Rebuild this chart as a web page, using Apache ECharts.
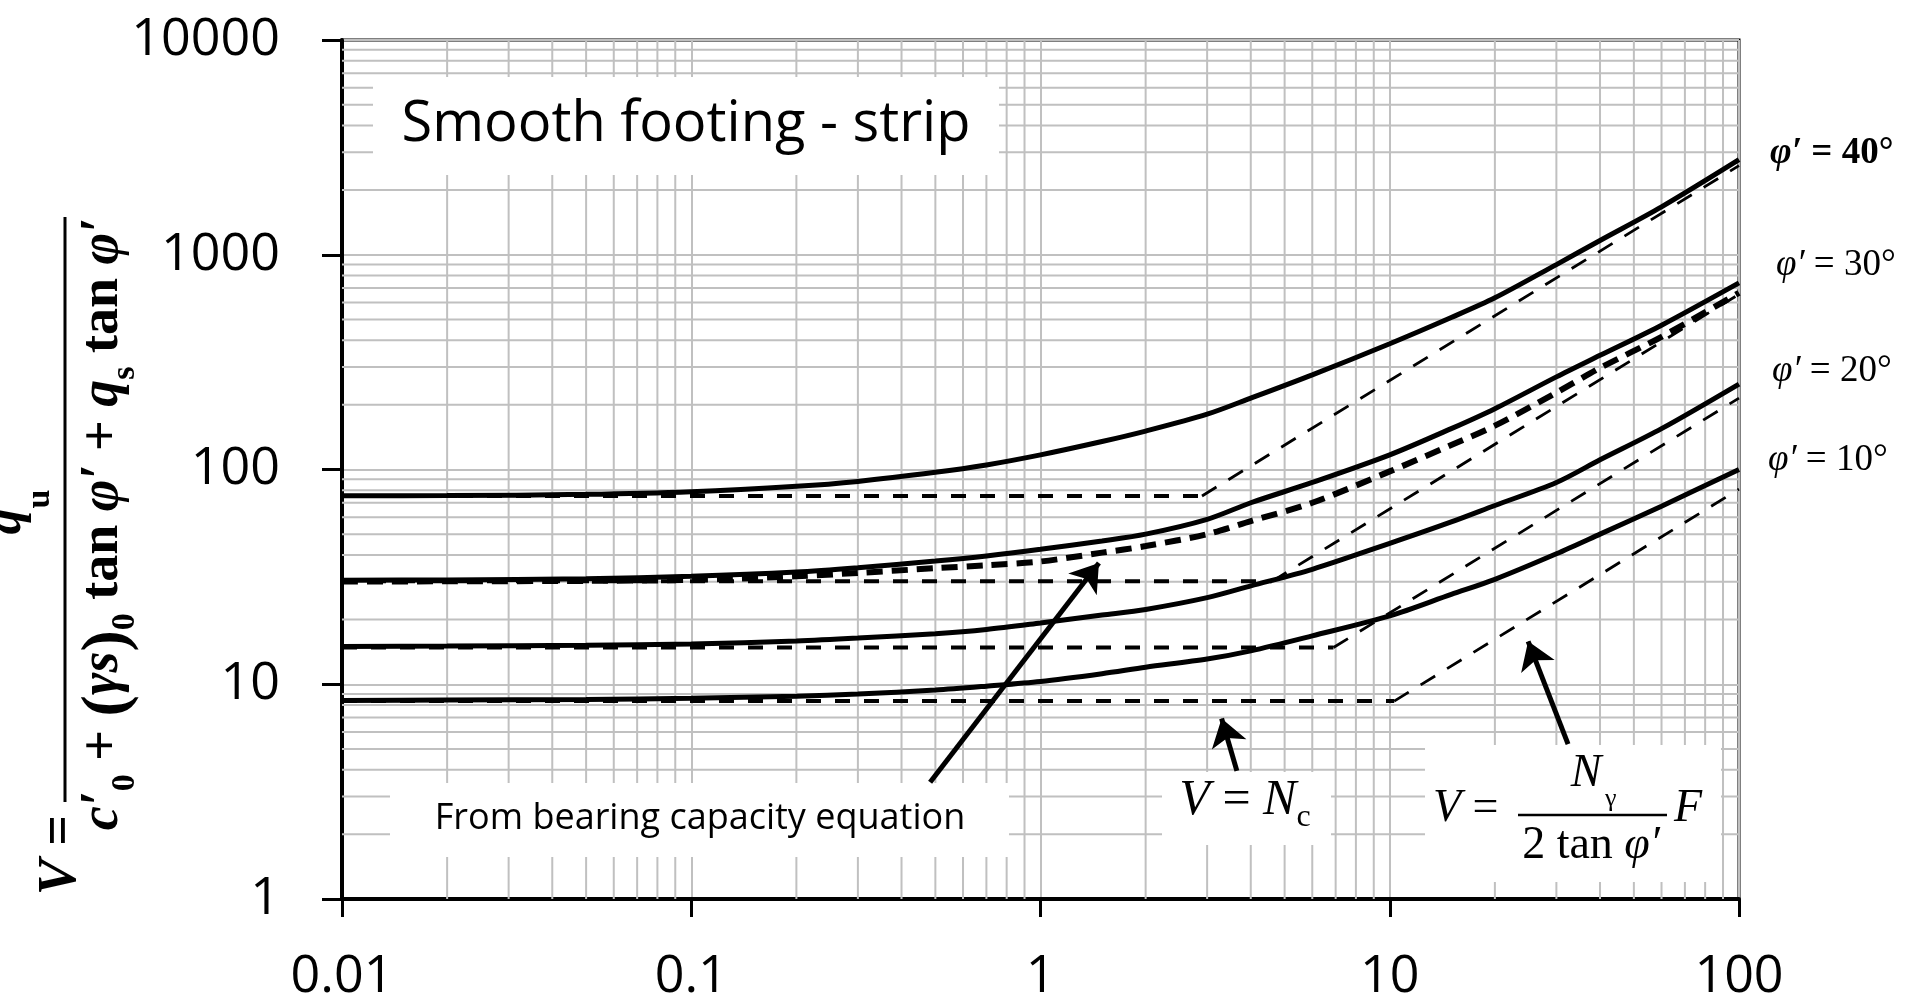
<!DOCTYPE html>
<html>
<head>
<meta charset="utf-8">
<title>Smooth footing - strip</title>
<script src="https://cdn.jsdelivr.net/npm/echarts@6/dist/echarts.min.js"></script>
<style>
  html, body { margin: 0; padding: 0; background: #fff; }
  #chart { width: 1915px; height: 1003px; }
</style>
</head>
<body>
<div id="chart"></div>
<script>
const xF = [0.01, 0.02, 0.05, 0.1, 0.2, 0.3, 0.5, 0.7, 1, 1.5, 2, 3, 4, 6, 10, 15, 20, 30, 40, 60, 100];

// V for each friction angle (solid lines)
const vPhi10 = [8.4, 8.45, 8.5, 8.6, 8.8, 9.0, 9.4, 9.8, 10.3, 11.2, 12.0, 13.1, 14.3, 16.8, 20.8, 26.2, 30.8, 40.5, 50, 67.5, 100];
const vPhi20 = [15.0, 15.05, 15.2, 15.4, 15.9, 16.4, 17.2, 18.0, 19.3, 21.0, 22.3, 25.3, 28.7, 34.3, 45.3, 57, 68, 87, 111, 155, 250];
const vPhi30 = [30.5, 30.6, 31.0, 31.8, 33.3, 34.9, 37.5, 39.6, 42.5, 46.5, 50, 58.6, 70, 87, 117, 155, 192, 270, 340, 470, 740];
const vPhi40 = [75.4, 75.6, 76.6, 78.8, 83.5, 88, 97, 105, 117, 135, 151, 181, 215, 276, 385, 510, 630, 900, 1165, 1670, 2770];

// phi' = 30 from bearing capacity equation (thick dashed)
const vPhi30Eq = [30.1, 30.15, 30.3, 30.6, 31.8, 33.0, 34.7, 35.8, 37.3, 41, 44, 50, 57.5, 70, 98, 130, 160, 228, 297, 415, 665];

// asymptotes: V = Nc (flat) then V = N_gamma F / (2 tan phi') (rising), thin dashed
const asym10 = [[0.01, 8.35], [10.3, 8.35], [100, 81]];
const asym20 = [[0.01, 14.83], [6.9, 14.83], [100, 215]];
const asym30 = [[0.01, 30.14], [4.6, 30.14], [100, 655]];
const asym40 = [[0.01, 75.31], [2.9, 75.31], [100, 2600]];

// annotation arrows, tail -> head (data coords)
const arrowFrom = [[0.483, 3.5], [3.65, 3.95], [32.4, 5.26]];
const arrowTo = [[1.47, 36.7], [3.30, 6.93], [24.9, 15.85]];

// tick labels and minor grid
const xTickLabels = ['0.01', '0.1', '1', '10', '100'];
const yTickLabels = ['1', '10', '100', '1000', '10000'];
const xDecades = [0.01, 0.1, 1, 10];
const yDecades = [1, 10, 100, 1000];
const minorSteps = [2, 3, 4, 5, 6, 7, 8, 9];

const SERIF = '"Liberation Serif", "Times New Roman", serif';
const SANS = '"Open Sans", sans-serif';

function pairs(xs, ys) {
    return xs.map((x, i) => [x, ys[i]]);
}

// minor grid lines as one broken line series
let minorGrid = [];
xDecades.forEach(d => minorSteps.forEach(k => {
    const v = +(d * k).toPrecision(3);
    minorGrid.push([v, 1], [v, 10000], ['-', '-']);
}));
yDecades.forEach(d => minorSteps.forEach(k => {
    const v = +(d * k).toPrecision(3);
    minorGrid.push([0.01, v], [100, v], ['-', '-']);
}));

const solid = { color: '#000', width: 5 };
const flatDash = { color: '#000', width: 4, type: [15, 14] };
const riseDash = { color: '#000', width: 2.8, type: [17, 14] };

function curve(data, lineStyle, smooth) {
    return {
        type: 'line', data: data, smooth: smooth, symbol: 'none', showSymbol: false,
        lineStyle: lineStyle, z: 4, silent: true
    };
}

// flat part and rising part of one asymptote
function asymptote(pts) {
    return [curve(pts.slice(0, 2), flatDash, false), curve(pts.slice(1), riseDash, false)];
}

// rich styles: main tokens sit at the top of a tall line, subscripts at its bottom
function mainTok(size, lh, italic, bold) {
    return { fontFamily: SERIF, fontSize: size, lineHeight: lh, verticalAlign: 'top',
        fontStyle: italic ? 'italic' : 'normal', fontWeight: bold ? 'bold' : 'normal' };
}
function subTok(size, lh, bold) {
    return { fontFamily: SERIF, fontSize: size, lineHeight: lh, verticalAlign: 'bottom',
        fontWeight: bold ? 'bold' : 'normal' };
}

const yLabel = {
    type: 'group', x: 65, y: 510, rotation: Math.PI / 2,
    children: [
        { type: 'line', shape: { x1: -292, y1: 0, x2: 293, y2: 0 }, style: { stroke: '#000', lineWidth: 3 } },
        {
            type: 'text', x: -2, y: -84,
            style: {
                text: '{q|q}{u|u}', align: 'center', verticalAlign: 'top',
                rich: { q: mainTok(52, 76, true, true), u: subTok(34, 32, true) }
            }
        },
        {
            type: 'text', x: -14, y: 11,
            style: {
                text: '{i|c′}{s|0}{r| + }{pa|(}{i|γs}{pa|)}{s|0}{r| tan}{i| φ′}{r| + }{i|q}{s|s}{r| tan}{i| φ′}',
                align: 'center', verticalAlign: 'top',
                rich: {
                    i: mainTok(54, 66, true, true),
                    r: mainTok(54, 66, false, true),
                    pa: mainTok(64, 66, false, true),
                    s: subTok(34, 30, true)
                }
            }
        },
        {
            type: 'text', x: -305, y: -4,
            style: {
                text: '{i|V}{r| =}', align: 'right', verticalAlign: 'middle',
                rich: {
                    i: { fontFamily: SERIF, fontSize: 54, fontWeight: 'bold', fontStyle: 'italic' },
                    r: { fontFamily: SERIF, fontSize: 54, fontWeight: 'bold' }
                }
            }
        }
    ]
};

function phiLabel(x, y, deg, bold) {
    const w = bold ? 'bold' : 'normal';
    return {
        type: 'text', x: x, y: y,
        style: {
            text: '{i|φ′}{r| = ' + deg + '°}', align: 'left', verticalAlign: 'middle',
            rich: {
                i: { fontFamily: SERIF, fontSize: 37, fontStyle: 'italic', fontWeight: w },
                r: { fontFamily: SERIF, fontSize: 37, fontWeight: w }
            }
        }
    };
}

const serifIt = (size) => ({ fontFamily: SERIF, fontSize: size, fontStyle: 'italic' });

const graphics = [
    yLabel,
    // title box
    { type: 'rect', z: 3, shape: { x: 373, y: 77, width: 626, height: 98 }, style: { fill: '#fff' } },
    { type: 'text', z: 3, x: 686, y: 125, style: { text: 'Smooth footing - strip', fontFamily: SANS, fontSize: 56, fill: '#000', align: 'center', verticalAlign: 'middle' } },
    // from bearing capacity box
    { type: 'rect', z: 3, shape: { x: 390, y: 783, width: 619, height: 74 }, style: { fill: '#fff' } },
    { type: 'text', z: 3, x: 700, y: 819, style: { text: 'From bearing capacity equation', fontFamily: SANS, fontSize: 36, fill: '#000', align: 'center', verticalAlign: 'middle' } },
    // V = Nc box
    { type: 'rect', z: 3, shape: { x: 1162, y: 772, width: 169, height: 73 }, style: { fill: '#fff' } },
    {
        type: 'text', z: 3, x: 1245, y: 776,
        style: {
            text: '{i|V}{r| = }{i|N}{s|c}', align: 'center', verticalAlign: 'top',
            rich: { i: mainTok(50, 58, true, false), r: mainTok(50, 58, false, false), s: subTok(32, 26, false) }
        }
    },
    // V = N_gamma / (2 tan phi') F box
    { type: 'rect', z: 3, shape: { x: 1425, y: 745, width: 296, height: 137 }, style: { fill: '#fff' } },
    {
        type: 'text', z: 3, x: 1433, y: 809,
        style: { text: '{i|V}{r| =}', align: 'left', verticalAlign: 'middle',
            rich: { i: serifIt(46), r: { fontFamily: SERIF, fontSize: 46 } } }
    },
    { type: 'line', z: 3, shape: { x1: 1518, y1: 815, x2: 1667, y2: 815 }, style: { stroke: '#000', lineWidth: 2.5 } },
    { type: 'text', z: 3, x: 1586, y: 774, style: Object.assign(serifIt(46), { text: 'N', fill: '#000', align: 'center', verticalAlign: 'middle' }) },
    { type: 'text', z: 3, x: 1605, y: 799, style: { text: 'γ', fontFamily: SERIF, fontSize: 26, fill: '#000', align: 'left', verticalAlign: 'middle' } },
    {
        type: 'text', z: 3, x: 1591, y: 846,
        style: { text: '{r|2 tan }{i|φ′}', align: 'center', verticalAlign: 'middle',
            rich: { i: serifIt(46), r: { fontFamily: SERIF, fontSize: 46 } } }
    },
    { type: 'text', z: 3, x: 1674, y: 809, style: Object.assign(serifIt(46), { text: 'F', fill: '#000', align: 'left', verticalAlign: 'middle' }) },
    // phi' labels on the right
    phiLabel(1770, 153, 40, true),
    phiLabel(1776, 265, 30, false),
    phiLabel(1772, 371, 20, false),
    phiLabel(1768, 460, 10, false)
];

const chart = echarts.init(document.getElementById('chart'));

const option = {
    animation: false,
    backgroundColor: '#fff',
    grid: { left: 342, right: 176, top: 40, bottom: 104, show: true, borderColor: '#000', borderWidth: 3, backgroundColor: 'transparent' },
    xAxis: {
        type: 'log', logBase: 10, min: 0.01, max: 100,
        axisLine: { onZero: false, lineStyle: { color: '#000', width: 4 } },
        axisTick: { show: true, length: 18, lineStyle: { color: '#000', width: 3 } },
        axisLabel: {
            margin: 52, color: '#000', fontFamily: SANS, fontSize: 52,
            formatter: v => xTickLabels[Math.round(Math.log10(v)) + 2]
        },
        splitLine: { show: true, lineStyle: { color: '#c0c0c0', width: 2 } },
        minorTick: { show: false }
    },
    yAxis: {
        type: 'log', logBase: 10, min: 1, max: 10000,
        axisLine: { onZero: false, lineStyle: { color: '#000', width: 4 } },
        axisTick: { show: true, length: 20, lineStyle: { color: '#000', width: 3 } },
        axisLabel: {
            margin: 62, color: '#000', fontFamily: SANS, fontSize: 52,
            formatter: v => yTickLabels[Math.round(Math.log10(v))]
        },
        splitLine: { show: true, lineStyle: { color: '#c0c0c0', width: 2 } }
    },
    graphic: graphics,
    series: [
        {
            type: 'line', data: minorGrid, symbol: 'none', showSymbol: false, connectNulls: false,
            lineStyle: { color: '#c0c0c0', width: 2 }, z: 1, silent: true
        },
        ...asymptote(asym10),
        ...asymptote(asym20),
        ...asymptote(asym30),
        ...asymptote(asym40),
        curve(pairs(xF, vPhi30Eq), { color: '#000', width: 6, type: [16, 9] }, 0.3),
        curve(pairs(xF, vPhi10), solid, 0.3),
        curve(pairs(xF, vPhi20), solid, 0.3),
        curve(pairs(xF, vPhi30), solid, 0.3),
        curve(pairs(xF, vPhi40), solid, 0.3),
        {
            type: 'lines', coordinateSystem: 'cartesian2d', silent: true, z: 5,
            symbol: ['none', 'arrow'], symbolSize: 27,
            lineStyle: { color: '#000', width: 5, opacity: 1, curveness: 0 },
            data: arrowFrom.map((f, i) => ({ coords: [f, arrowTo[i]] }))
        }
    ]
};

chart.setOption(option);
</script>
</body>
</html>
